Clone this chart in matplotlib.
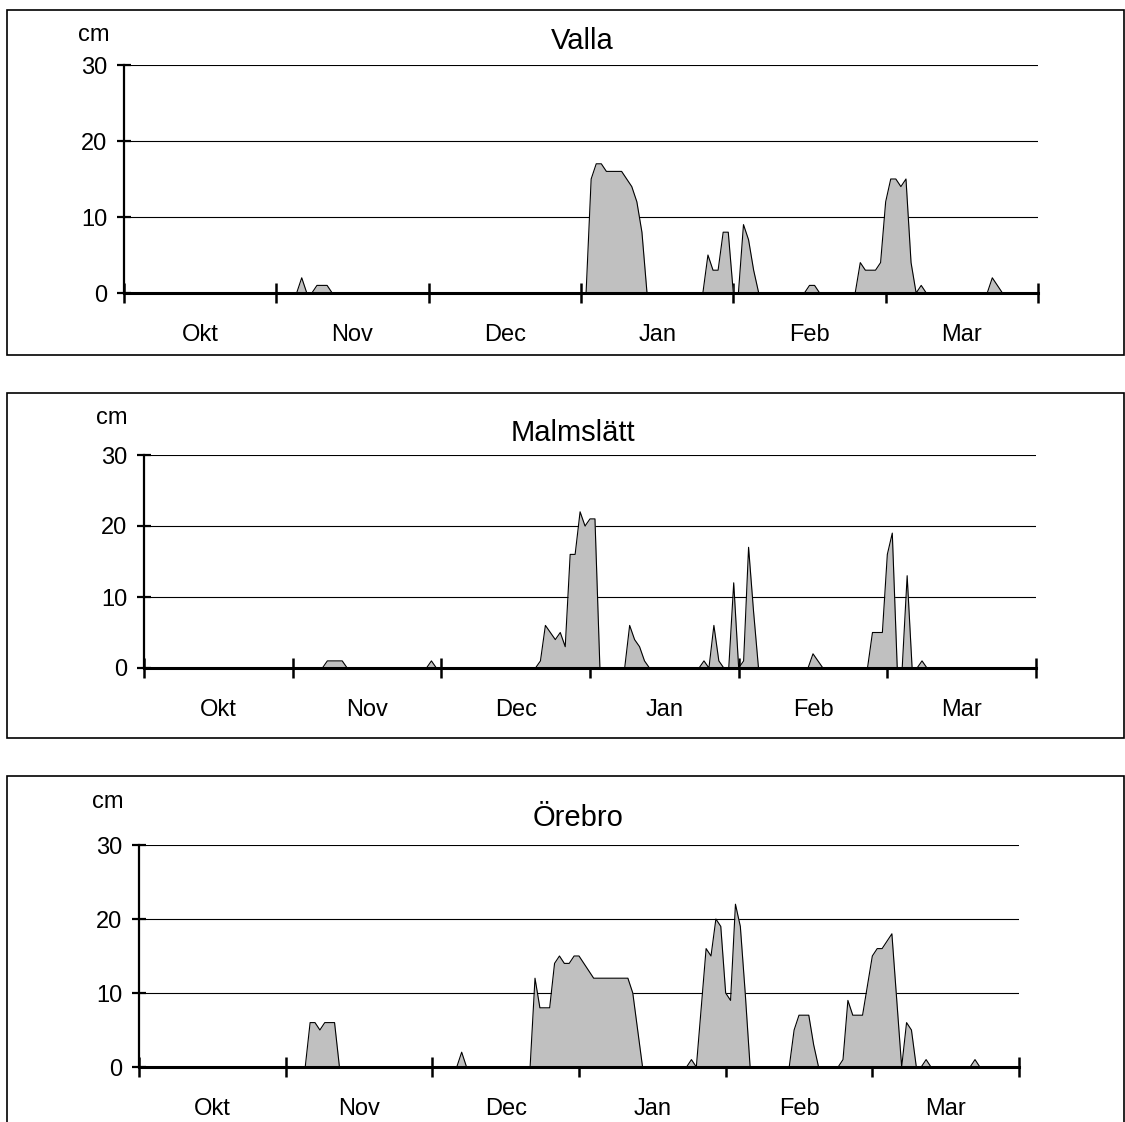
import matplotlib
matplotlib.use("Agg")
import matplotlib.pyplot as plt
from matplotlib.patches import Rectangle
import numpy as np

plt.rcParams.update({"font.family": ["Liberation Sans", "DejaVu Sans"], "font.size": 17})

# daily snow depth (cm), 1 Oct .. 30 Mar, one row per month (30 days, last row 31)
valla = (
    [0] * 30
    + [0, 0, 0, 0, 0, 2, 0, 0, 1, 1, 1, 0, 0, 0, 0, 0, 0, 0, 0, 0, 0, 0, 0, 0, 0, 0, 0, 0, 0, 0]
    + [0] * 30
    + [0, 0, 15, 17, 17, 16, 16, 16, 16, 15, 14, 12, 8, 0, 0, 0, 0, 0, 0, 0, 0, 0, 0, 0, 0, 5, 3, 3, 8, 8]
    + [0, 0, 9, 7, 3, 0, 0, 0, 0, 0, 0, 0, 0, 0, 0, 1, 1, 0, 0, 0, 0, 0, 0, 0, 0, 4, 3, 3, 3, 4]
    + [12, 15, 15, 14, 15, 4, 0, 1, 0, 0, 0, 0, 0, 0, 0, 0, 0, 0, 0, 0, 0, 2, 1, 0, 0, 0, 0, 0, 0, 0, 0]
)
malmslatt = (
    [0] * 30
    + [0, 0, 0, 0, 0, 0, 0, 1, 1, 1, 1, 0, 0, 0, 0, 0, 0, 0, 0, 0, 0, 0, 0, 0, 0, 0, 0, 0, 1, 0]
    + [0, 0, 0, 0, 0, 0, 0, 0, 0, 0, 0, 0, 0, 0, 0, 0, 0, 0, 0, 0, 1, 6, 5, 4, 5, 3, 16, 16, 22, 20]
    + [21, 21, 0, 0, 0, 0, 0, 0, 6, 4, 3, 1, 0, 0, 0, 0, 0, 0, 0, 0, 0, 0, 0, 1, 0, 6, 1, 0, 0, 12]
    + [0, 1, 17, 8, 0, 0, 0, 0, 0, 0, 0, 0, 0, 0, 0, 2, 1, 0, 0, 0, 0, 0, 0, 0, 0, 0, 0, 5, 5, 5]
    + [16, 19, 0, 0, 13, 0, 0, 1, 0, 0, 0, 0, 0, 0, 0, 0, 0, 0, 0, 0, 0, 0, 0, 0, 0, 0, 0, 0, 0, 0, 0]
)
orebro = (
    [0] * 30
    + [0, 0, 0, 0, 0, 6, 6, 5, 6, 6, 6, 0, 0, 0, 0, 0, 0, 0, 0, 0, 0, 0, 0, 0, 0, 0, 0, 0, 0, 0]
    + [0, 0, 0, 0, 0, 0, 2, 0, 0, 0, 0, 0, 0, 0, 0, 0, 0, 0, 0, 0, 0, 12, 8, 8, 8, 14, 15, 14, 14, 15]
    + [15, 14, 13, 12, 12, 12, 12, 12, 12, 12, 12, 10, 5, 0, 0, 0, 0, 0, 0, 0, 0, 0, 0, 1, 0, 8, 16, 15, 20, 19]
    + [10, 9, 22, 19, 10, 0, 0, 0, 0, 0, 0, 0, 0, 0, 5, 7, 7, 7, 3, 0, 0, 0, 0, 0, 1, 9, 7, 7, 7, 11]
    + [15, 16, 16, 17, 18, 9, 0, 6, 5, 0, 0, 1, 0, 0, 0, 0, 0, 0, 0, 0, 0, 1, 0, 0, 0, 0, 0, 0, 0, 0, 0]
)
months = ["Okt", "Nov", "Dec", "Jan", "Feb", "Mar"]
stations = ["Valla", "Malmslätt", "Örebro"]
yticks = [0, 10, 20, 30]

W, H = 1125, 1122
fig = plt.figure(figsize=(W / 100, H / 100), dpi=100)

# pixel layout: (axis left, axis right, y of 0, y of 30, box top, box bottom, cm x, cm y, title x, title y)
layout = [
    (124, 1038, 293, 65, 10, 355, 94, 41, 582, 49),
    (144, 1036, 668, 455, 393, 738, 112, 424, 573, 441),
    (139, 1019, 1067, 845, 776, 1130, 108, 808, 578, 826),
]


def fx(px):
    return px / W


def fy(py):
    return 1 - py / H


for name, vals, (xl, xr, y0, y30, bt, bb, cx, cy, tx, ty) in zip(stations, [valla, malmslatt, orebro], layout):
    fig.patches.append(Rectangle((fx(7), fy(bb)), fx(1124 - 7), (bb - bt) / H,
                                 transform=fig.transFigure, fill=False, ec="black", lw=1.2))
    ax = fig.add_axes([fx(xl), fy(y0), fx(xr - xl), (y0 - y30) / H])
    days = np.arange(len(vals))
    ax.fill_between(days, vals, color="#c0c0c0", lw=0, zorder=2)
    ax.plot(days, vals, color="black", lw=0.8, zorder=3)
    ax.set_xlim(0, 180)
    ax.set_ylim(0, 30)
    ax.set_yticks(yticks)
    ax.grid(axis="y", color="black", lw=0.8)
    ax.set_axisbelow(True)
    for s in ("top", "right"):
        ax.spines[s].set_visible(False)
    ax.spines["bottom"].set_linewidth(2.2)
    ax.spines["left"].set_linewidth(1.6)
    ax.spines["bottom"].set_zorder(4)
    ax.set_xticks(np.arange(0, 181, 30))
    ax.set_xticklabels([])
    ax.set_xticks(np.arange(15, 180, 30), minor=True)
    ax.set_xticklabels(months, minor=True)
    ax.tick_params(axis="x", which="major", direction="inout", length=14, width=1.8)
    ax.tick_params(axis="x", which="minor", length=0, pad=22)
    ax.tick_params(axis="y", direction="inout", length=10, width=1.6, pad=7)
    ax.patch.set_alpha(0)
    fig.text(fx(cx), fy(cy), "cm", ha="center", va="baseline", fontsize=17)
    fig.text(fx(tx), fy(ty), name, ha="center", va="baseline", fontsize=21)

fig.savefig("out.png", dpi=100)
